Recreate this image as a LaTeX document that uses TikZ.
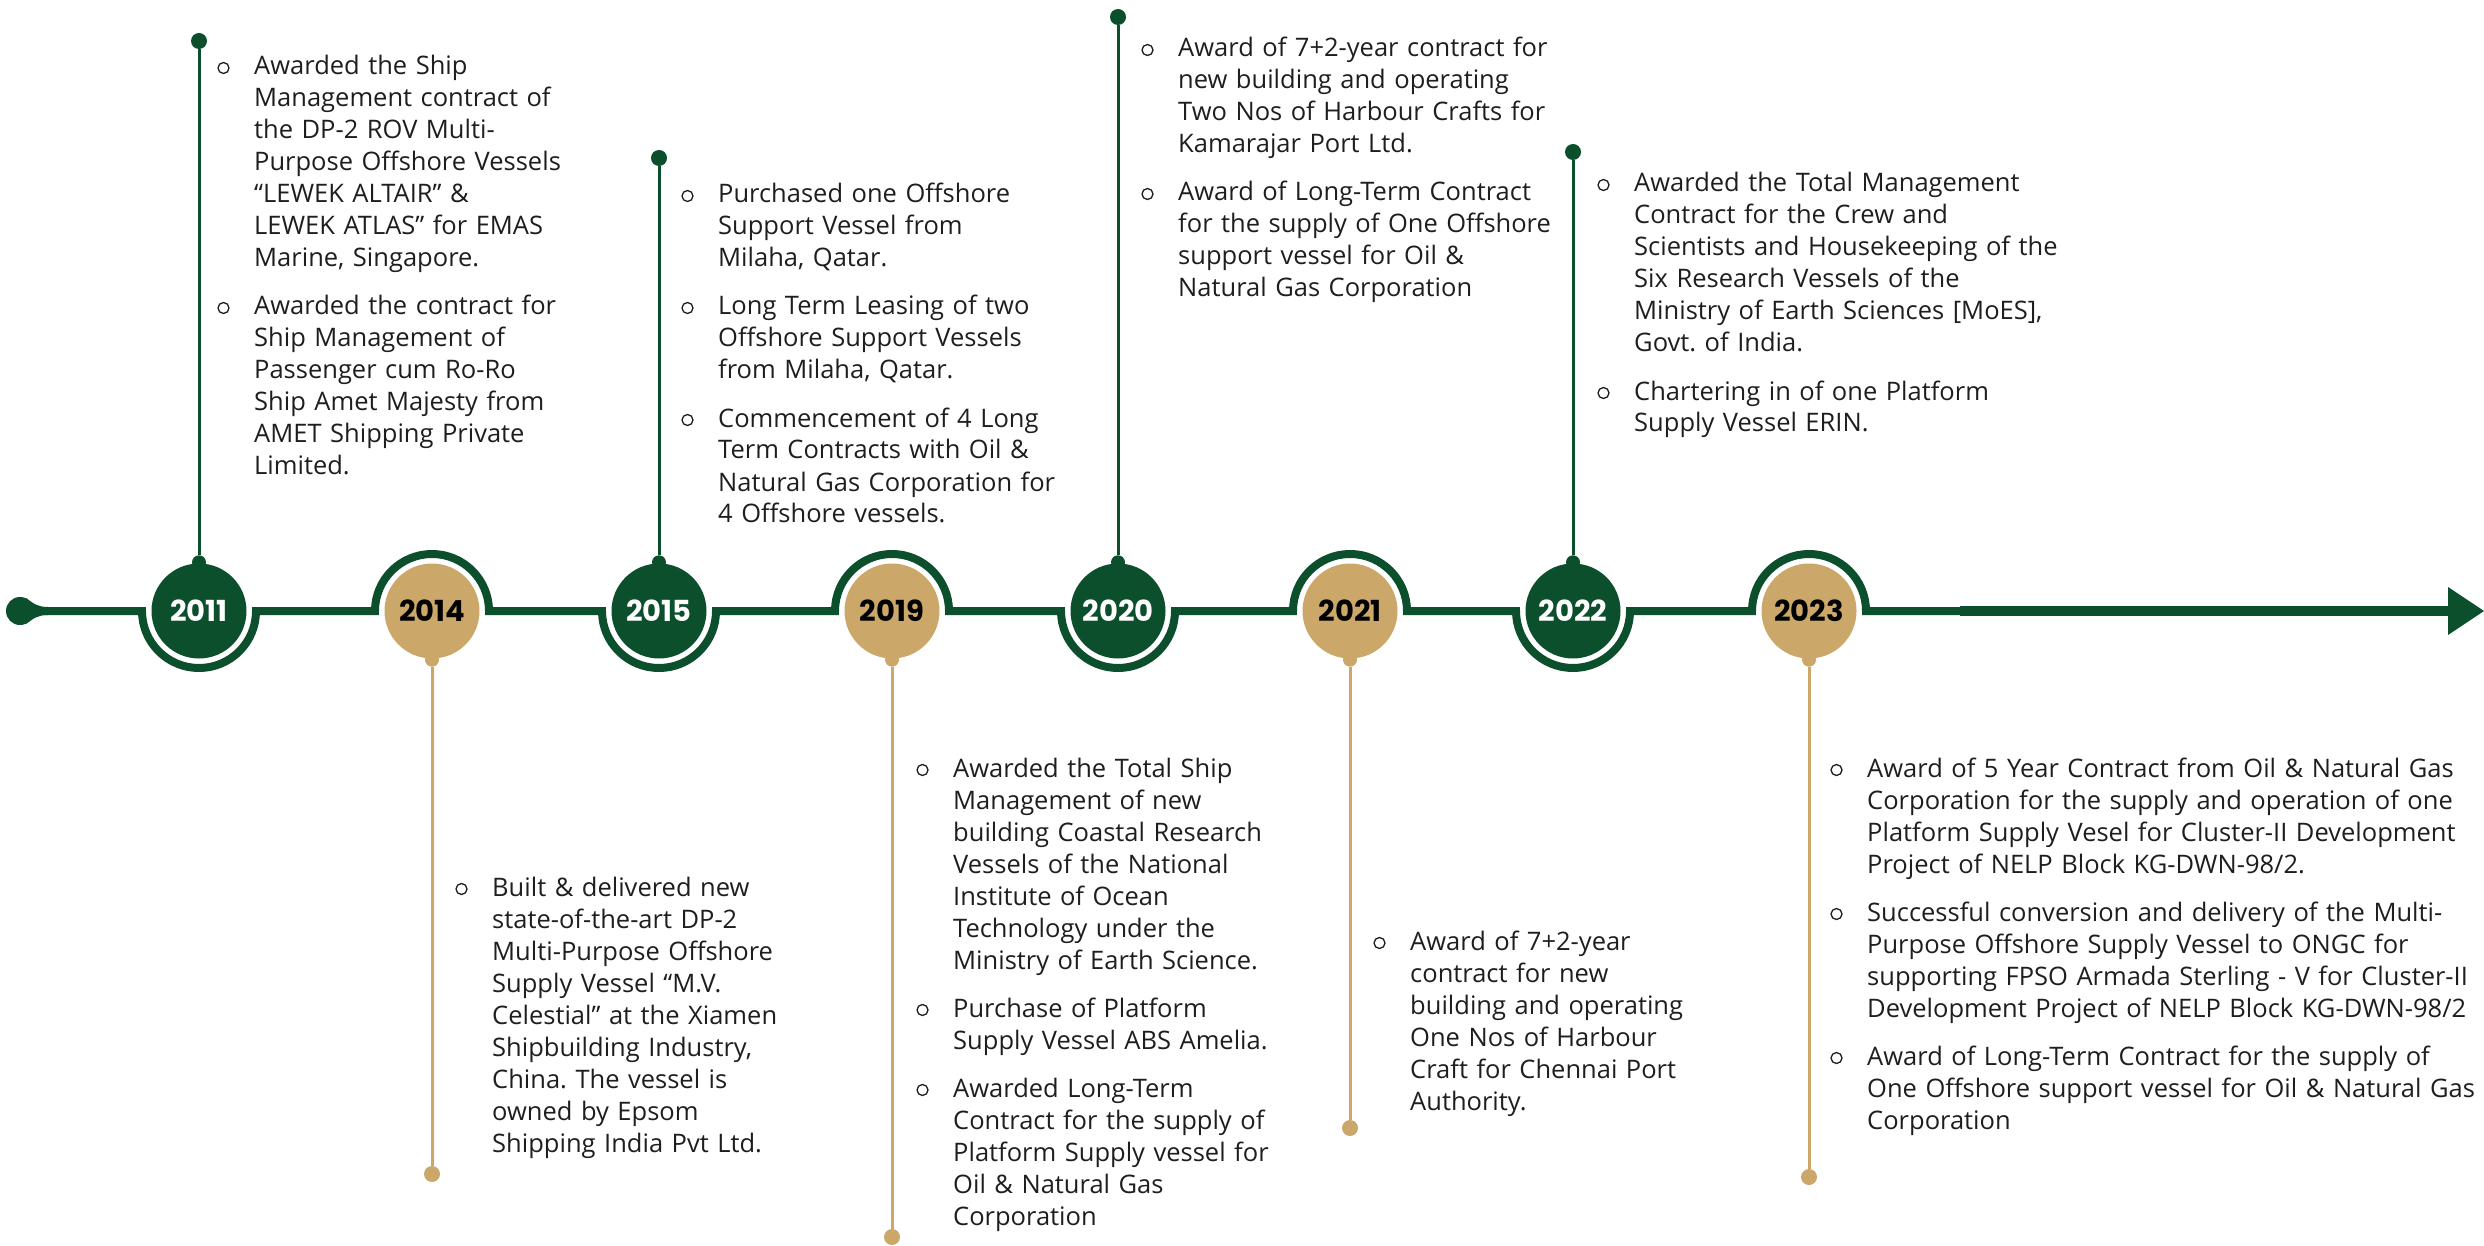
\documentclass[tikz,border=0pt]{standalone}
\usepackage{fontspec}
\setmainfont{Open Sans}
\newfontfamily\yearfont{Poppins}
\definecolor{tlgreen}{HTML}{0C4F2C}
\definecolor{tlgold}{HTML}{CBA869}
\definecolor{tltext}{HTML}{1E1E1E}
\frenchspacing
\begin{document}
\begin{tikzpicture}[x=1pt,y=-1pt,
  mainline/.style={draw=tlgreen,line width=8pt},
  yeargreen/.style={circle,fill=tlgreen,minimum size=95pt,inner sep=0pt,text=white,font=\yearfont\bfseries\fontsize{29}{29}\selectfont},
  yeargold/.style={circle,fill=tlgold,minimum size=95pt,inner sep=0pt,text=black,font=\yearfont\bfseries\fontsize{29}{29}\selectfont},
  dotg/.style={circle,fill=tlgreen,inner sep=0pt,minimum size=16pt},
  dotk/.style={circle,fill=tlgold,inner sep=0pt,minimum size=16pt},
  knobg/.style={circle,fill=tlgreen,inner sep=0pt,minimum size=14pt},
  knobk/.style={circle,fill=tlgold,inner sep=0pt,minimum size=14pt},
  stemg/.style={draw=tlgreen,line width=3pt},
  stemk/.style={draw=tlgold,line width=3pt},
  itembox/.style={anchor=base west,inner sep=0pt,text width=400pt,align=left,text=tltext,font=\fontsize{25.5}{32}\selectfont\frenchspacing},
  wideitem/.style={itembox,text width=700pt},
  bul/.style={circle,draw=tltext,line width=1.3pt,inner sep=0pt,minimum size=11pt},
]
\useasboundingbox (0,0) rectangle (2484,1246);

% start dot
\node[circle,fill=tlgreen,inner sep=0pt,minimum size=28pt] (start) at (20,611) {};
\fill[tlgreen] (26,598) .. controls (34,604) and (38,607) .. (48,607) -- (48,615) .. controls (38,615) and (34,618) .. (26,624) -- cycle;

% year nodes
\node[yeargreen] (y2011) at (199,611) {2011};
\node[yeargold]  (y2014) at (432,611) {2014};
\node[yeargreen] (y2015) at (659,611) {2015};
\node[yeargold]  (y2019) at (892,611) {2019};
\node[yeargreen] (y2020) at (1118,611) {2020};
\node[yeargold]  (y2021) at (1350,611) {2021};
\node[yeargreen] (y2022) at (1573,611) {2022};
\node[yeargold]  (y2023) at (1809,611) {2023};
\coordinate (lineend) at (1960,611);
\coordinate (arrowbase) at (2450,611);
\coordinate (arrowtip) at (2484,611);

% main line with arcs
\draw[mainline] (start.east)
  -- ([xshift=-57pt]y2011.center) arc[start angle=180,end angle=360,radius=57pt]
  -- ([xshift=-57pt]y2014.center) arc[start angle=180,end angle=0,radius=57pt]
  -- ([xshift=-57pt]y2015.center) arc[start angle=180,end angle=360,radius=57pt]
  -- ([xshift=-57pt]y2019.center) arc[start angle=180,end angle=0,radius=57pt]
  -- ([xshift=-57pt]y2020.center) arc[start angle=180,end angle=360,radius=57pt]
  -- ([xshift=-57pt]y2021.center) arc[start angle=180,end angle=0,radius=57pt]
  -- ([xshift=-57pt]y2022.center) arc[start angle=180,end angle=360,radius=57pt]
  -- ([xshift=-57pt]y2023.center) arc[start angle=180,end angle=0,radius=57pt]
  -- ([xshift=1pt]lineend);
\draw[draw=tlgreen,line width=10pt] (lineend) -- (arrowbase);
\fill[tlgreen] (2448,587) -- (arrowtip) -- (2448,635) -- cycle;

% stems (green, upward)
\node[knobg] (k2011) at ([yshift=1pt]y2011.north) {};
\node[dotg] (d2011) at (199,41) {};
\draw[stemg] (k2011) -- (d2011);
\node[knobg] (k2015) at ([yshift=1pt]y2015.north) {};
\node[dotg] (d2015) at (659,158) {};
\draw[stemg] (k2015) -- (d2015);
\node[knobg] (k2020) at ([yshift=1pt]y2020.north) {};
\node[dotg] (d2020) at (1118,17) {};
\draw[stemg] (k2020) -- (d2020);
\node[knobg] (k2022) at ([yshift=1pt]y2022.north) {};
\node[dotg] (d2022) at (1573,152) {};
\draw[stemg] (k2022) -- (d2022);

% stems (gold, downward)
\node[knobk] (k2014) at ([yshift=-1pt]y2014.south) {};
\node[dotk] (d2014) at (432,1174) {};
\draw[stemk] (k2014) -- (d2014);
\node[knobk] (k2019) at ([yshift=-1pt]y2019.south) {};
\node[dotk] (d2019) at (892,1237) {};
\draw[stemk] (k2019) -- (d2019);
\node[knobk] (k2021) at ([yshift=-1pt]y2021.south) {};
\node[dotk] (d2021) at (1350,1128) {};
\draw[stemk] (k2021) -- (d2021);
\node[knobk] (k2023) at ([yshift=-1pt]y2023.south) {};
\node[dotk] (d2023) at (1809,1177) {};
\draw[stemk] (k2023) -- (d2023);

% 2011 texts
\node[itembox] (t11a) at (254,75) {Awarded the Ship\\Management contract of\\the DP-2 ROV Multi-\\Purpose Offshore Vessels\\“LEWEK ALTAIR” \&\\LEWEK ATLAS” for EMAS\\Marine, Singapore.};
\node[itembox] (t11b) at (254,315) {Awarded the contract for\\Ship Management of\\Passenger cum Ro-Ro\\Ship Amet Majesty from\\AMET Shipping Private\\Limited.};
% 2015 texts
\node[itembox] (t15a) at (718,203) {Purchased one Offshore\\Support Vessel from\\Milaha, Qatar.};
\node[itembox] (t15b) at (718,315) {Long Term Leasing of two\\Offshore Support Vessels\\from Milaha, Qatar.};
\node[itembox] (t15c) at (718,427) {Commencement of 4 Long\\Term Contracts with Oil \&\\Natural Gas Corporation for\\4 Offshore vessels.};
% 2020 texts
\node[itembox] (t20a) at (1178,57) {Award of 7+2-year contract for\\new building and operating\\Two Nos of Harbour Crafts for\\Kamarajar Port Ltd.};
\node[itembox] (t20b) at (1178,201) {Award of Long-Term Contract\\for the supply of One Offshore\\support vessel for Oil \&\\Natural Gas Corporation};
% 2022 texts
\node[itembox,text width=460pt] (t22a) at (1634,192) {Awarded the Total Management\\Contract for the Crew and\\Scientists and Housekeeping of the\\Six Research Vessels of the\\Ministry of Earth Sciences [MoES],\\Govt. of India.};
\node[itembox,text width=460pt] (t22b) at (1634,400) {Chartering in of one Platform\\Supply Vessel ERIN.};
% 2014 texts
\node[itembox] (t14a) at (492,896) {Built \& delivered new\\state-of-the-art DP-2\\Multi-Purpose Offshore\\Supply Vessel “M.V.\\Celestial” at the Xiamen\\Shipbuilding Industry,\\China. The vessel is\\owned by Epsom\\Shipping India Pvt Ltd.};
% 2019 texts
\node[itembox] (t19a) at (953,777) {Awarded the Total Ship\\Management of new\\building Coastal Research\\Vessels of the National\\Institute of Ocean\\Technology under the\\Ministry of Earth Science.};
\node[itembox] (t19b) at (953,1017) {Purchase of Platform\\Supply Vessel ABS Amelia.};
\node[itembox] (t19c) at (953,1097) {Awarded Long-Term\\Contract for the supply of\\Platform Supply vessel for\\Oil \& Natural Gas\\Corporation};
% 2021 texts
\node[itembox] (t21a) at (1410,950) {Award of 7+2-year\\contract for new\\building and operating\\One Nos of Harbour\\Craft for Chennai Port\\Authority.};
% 2023 texts
\node[wideitem] (t23a) at (1867,777) {Award of 5 Year Contract from Oil \& Natural Gas\\Corporation for the supply and operation of one\\Platform Supply Vesel for Cluster-II Development\\Project of NELP Block KG-DWN-98/2.};
\node[wideitem] (t23b) at (1867,921) {Successful conversion and delivery of the Multi-\\Purpose Offshore Supply Vessel to ONGC for\\supporting FPSO Armada Sterling - V for Cluster-II\\Development Project of NELP Block KG-DWN-98/2};
\node[wideitem] (t23c) at (1867,1065) {Award of Long-Term Contract for the supply of\\One Offshore support vessel for Oil \& Natural Gas\\Corporation};

% bullets
\foreach \t in {t11a,t11b,t15a,t15b,t15c,t20a,t20b,t22a,t22b,t14a,t19a,t19b,t19c,t21a,t23a,t23b,t23c}{
  \node[bul] (b\t) at ([xshift=-30.5pt,yshift=7pt]\t.base west) {};
}
\end{tikzpicture}
\end{document}
